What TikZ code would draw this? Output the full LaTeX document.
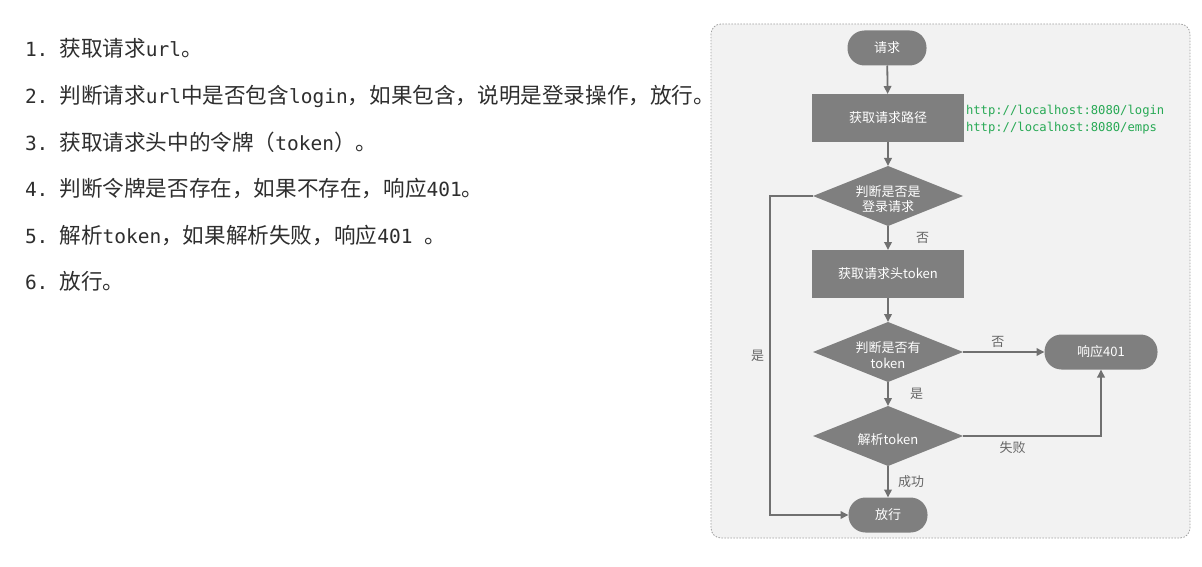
\documentclass[tikz,border=0pt]{standalone}
\usepackage{fontspec}
\setmainfont{Noto Sans CJK SC}
\newfontfamily\mono{DejaVu Sans Mono}
\usetikzlibrary{arrows.meta,shapes.geometric}
\definecolor{txt}{HTML}{2E2E2E}
\definecolor{boxfill}{HTML}{7F7F7F}
\definecolor{linec}{HTML}{707070}
\definecolor{panel}{HTML}{F2F2F2}
\definecolor{panelline}{HTML}{A0A0A0}
\definecolor{urlg}{HTML}{28A955}
\definecolor{lblc}{HTML}{666666}
\newcommand\mm[1]{{\mono\fontsize{19.5}{24}\selectfont #1}}
\newcommand\num[1]{\mm{#1.}\hspace{11pt}}
\newcommand\ctrtxt[1]{\makebox[0pt]{\raisebox{-0.5\totalheight}[0pt][0pt]{\begin{tabular}[b]{@{}c@{}}#1\end{tabular}}}}
\begin{document}
\begin{tikzpicture}[x=1pt,y=-1pt,
  every node/.style={inner sep=0pt, outer sep=0pt},
  listline/.style={anchor=west, text=txt, font=\fontsize{21.6}{25}\selectfont},
  pill/.style={rectangle, rounded corners=17pt, fill=boxfill, minimum height=35pt, text=white, font=\fontsize{13}{16}\selectfont},
  procbox/.style={rectangle, fill=boxfill, minimum width=152pt, minimum height=48pt, text=white, font=\fontsize{13}{16}\selectfont},
  dia/.style={diamond, fill=boxfill, minimum width=150pt, minimum height=60pt, text=white, font=\fontsize{13}{16}\selectfont},
  arr/.style={draw=linec, line width=1.8pt, -{Triangle[length=8pt,width=7.5pt]}},
  lbl/.style={text=lblc, font=\fontsize{13}{16}\selectfont}]
\useasboundingbox (0,0) rectangle (1202,567);
\fill[white] (0,0) rectangle (1202,567);

% left list
\node[listline] (l1) at (25,48) {\num{1}获取请求\mm{url}。};
\node[listline] (l2) at (25,96) {\num{2}判断请求\mm{url}中是否包含\mm{login}，如果包含，说明是登录操作，放行。};
\node[listline] (l3) at (25,142) {\num{3}获取请求头中的令牌（\mm{token}）。};
\node[listline] (l4) at (25,188) {\num{4}判断令牌是否存在，如果不存在，响应\mm{401}。};
\node[listline] (l5) at (25,235) {\num{5}解析\mm{token}，如果解析失败，响应\mm{401 }。};
\node[listline] (l6) at (25,281) {\num{6}放行。};

% panel
\draw[draw=panelline, dash pattern=on 1.5pt off 1.5pt, line width=0.8pt, fill=panel, rounded corners=10pt] (711,24) rectangle (1190,538);

% flowchart nodes
\node[pill, minimum width=79pt] (start) at (887,48) {请求};
\node[procbox] (getpath) at (888,118) {获取请求路径};
\node[anchor=west, text=urlg, font=\mono\fontsize{12.2}{17}\selectfont, align=left] (urls) at (966,120) {http://localhost:8080/login\\http://localhost:8080/emps};
\node[dia] (islogin) at (888,196) {\ctrtxt{判断是否是\\登录请求}};
\node[procbox] (gettoken) at (888,274) {获取请求头token};
\node[dia] (hastoken) at (888,352) {\ctrtxt{判断是否有\\token}};
\node[pill, minimum width=113pt] (resp) at (1101,352) {响应401};
\node[dia] (parse) at (888,436) {\ctrtxt{解析token}};
\node[pill, minimum width=79pt] (pass) at (888,515) {放行};

% connectors
\draw[arr] (start) -- (getpath);
\draw[arr] (getpath) -- (islogin);
\draw[arr] (islogin) -- node[lbl, anchor=west, xshift=28pt] {否} (gettoken);
\draw[arr] (gettoken) -- (hastoken);
\draw[arr] (hastoken) -- node[lbl, anchor=south, xshift=-6pt, yshift=4pt] {否} (resp);
\draw[arr] (hastoken) -- node[lbl, anchor=west, xshift=22pt] {是} (parse);
\draw[arr] (parse.east) -| node[lbl, anchor=north, pos=0.18, yshift=-6pt] {失败} (resp.south);
\draw[arr] (parse) -- node[lbl, anchor=west, xshift=10pt] {成功} (pass);
\draw[arr] (islogin.west) -- ++(-43,0) |- node[lbl, anchor=east, pos=0.25, xshift=-6pt] {是} (pass.west);
\end{tikzpicture}
\end{document}
